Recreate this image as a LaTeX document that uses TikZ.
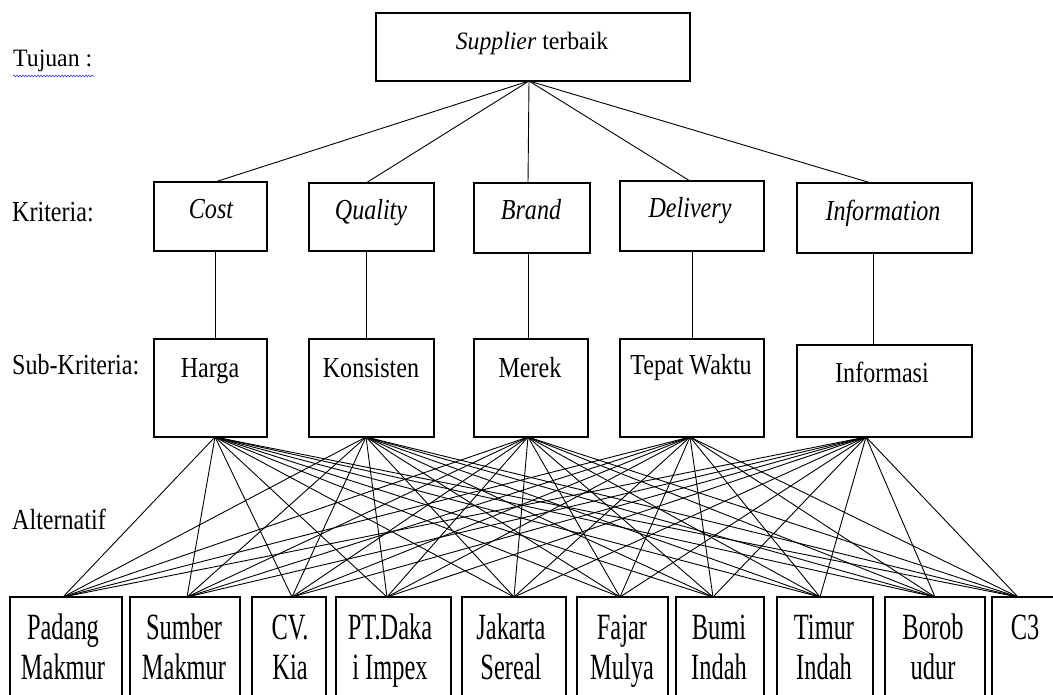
\documentclass[tikz,border=0pt]{standalone}
\usepackage{fontspec}
\setmainfont{Liberation Serif}
\newfontfamily\topfont[FakeStretch=0.95]{Liberation Serif}
\newfontfamily\midfont[FakeStretch=0.83]{Liberation Serif}
\newfontfamily\botfont[FakeStretch=0.66]{Liberation Serif}
\usetikzlibrary{decorations.pathmorphing}
\newcommand\mybox[5]{\node[box, anchor=north west, minimum width={#4-#2}, minimum height={#5-#3}] (#1) at (#2,#3) {};}
\begin{document}
\begin{tikzpicture}[x=1pt,y=-1pt,
  box/.style={draw=black, line width=1.1pt, inner sep=0pt, outer sep=0pt},
  ln/.style={line width=0.9pt, black},
  toptxt/.style={font=\topfont\fontsize{25}{28}\selectfont, anchor=base, inner sep=0pt},
  midtxt/.style={font=\midfont\fontsize{29}{32}\selectfont, anchor=base, inner sep=0pt},
  bottxt/.style={font=\botfont\fontsize{37}{40}\selectfont, anchor=base, inner sep=0pt, align=center},
  lefttxt/.style={anchor=base west, inner sep=0pt}]
\useasboundingbox (0,0) rectangle (1053,695);
\fill[white] (0,0) rectangle (1053,695);

% level labels
\node[toptxt, lefttxt] (l-tujuan) at (13,67) {Tujuan :};
\draw[blue!75!white, line width=0.6pt, decorate, decoration={snake, amplitude=0.9pt, segment length=3pt}] (13,76) -- (94,76);
\node[midtxt, lefttxt] (l-kriteria) at (12,222) {Kriteria:};
\node[midtxt, lefttxt] (l-sub) at (12,374) {Sub-Kriteria:};
\node[midtxt, lefttxt] (l-alt) at (12,529) {Alternatif};

% goal
\mybox{goal}{376}{13}{690}{81}
\node[toptxt] (t-goal) at (532,50) {\textit{Supplier} terbaik};

% criteria
\mybox{cost}{154}{182}{267}{251}
\mybox{quality}{309}{183}{434}{251}
\mybox{brand}{474}{183}{590}{253}
\mybox{delivery}{620}{181}{764}{251}
\mybox{information}{797}{183}{972}{253}
\node[midtxt] (t-cost) at (211,219) {\itshape Cost};
\node[midtxt] (t-quality) at (371,220) {\itshape Quality};
\node[midtxt] (t-brand) at (531,220) {\itshape Brand};
\node[midtxt] (t-delivery) at (690,218) {\itshape Delivery};
\node[midtxt] (t-information) at (883,221) {\itshape Information};

% sub-criteria
\mybox{harga}{154}{339}{267}{437}
\mybox{konsisten}{309}{339}{434}{437}
\mybox{merek}{474}{339}{588}{437}
\mybox{tepat}{620}{339}{764}{437}
\mybox{informasi}{797}{345}{972}{437}
\node[midtxt] (t-harga) at (210,377) {Harga};
\node[midtxt] (t-konsisten) at (371,377) {Konsisten};
\node[midtxt] (t-merek) at (530,377) {Merek};
\node[midtxt] (t-tepat) at (691,374) {Tepat Waktu};
\node[midtxt] (t-informasi) at (882,382) {Informasi};

% alternatives
\mybox{a1}{10}{597}{122}{705}
\mybox{a2}{130}{597}{240}{705}
\mybox{a3}{252}{597}{326}{705}
\mybox{a4}{336}{597}{451}{705}
\mybox{a5}{462}{597}{566}{705}
\mybox{a6}{577}{597}{668}{705}
\mybox{a7}{676}{597}{764}{705}
\mybox{a8}{777}{597}{873}{705}
\mybox{a9}{885}{597}{985}{705}
\mybox{a10}{992}{597}{1060}{705}
\node[bottxt] (t-a1) at (63,679) {Padang\\Makmur};
\node[bottxt] (t-a2) at (184,679) {Sumber\\Makmur};
\node[bottxt] (t-a3) at (290,679) {CV.\\Kia};
\node[bottxt] (t-a4) at (390,679) {PT.Daka\\i Impex};
\node[bottxt] (t-a5) at (511,679) {Jakarta\\Sereal};
\node[bottxt] (t-a6) at (622,679) {Fajar\\Mulya};
\node[bottxt] (t-a7) at (719,679) {Bumi\\Indah};
\node[bottxt] (t-a8) at (824,679) {Timur\\Indah};
\node[bottxt] (t-a9) at (933,679) {Borob\\udur};
\node[bottxt] (t-a10) at (1025,639) {C3};

% contact points
\coordinate (g-b) at (529,81);
\coordinate (c1-t) at (215,182);
\coordinate (c2-t) at (366,183);
\coordinate (c3-t) at (528,183);
\coordinate (c4-t) at (690,181);
\coordinate (c5-t) at (871,183);
\coordinate (c1-b) at (215,251);
\coordinate (c2-b) at (366,251);
\coordinate (c3-b) at (528,253);
\coordinate (c4-b) at (692,251);
\coordinate (c5-b) at (873,253);
\coordinate (s1-t) at (215,339);
\coordinate (s2-t) at (366,339);
\coordinate (s3-t) at (528,339);
\coordinate (s4-t) at (692,339);
\coordinate (s5-t) at (873,345);
\coordinate (s1-b) at (215,437);
\coordinate (s2-b) at (366,437);
\coordinate (s3-b) at (528,437);
\coordinate (s4-b) at (690,437);
\coordinate (s5-b) at (866,437);
\coordinate (a1-t) at (63,597);
\coordinate (a2-t) at (187,597);
\coordinate (a3-t) at (292,597);
\coordinate (a4-t) at (387,597);
\coordinate (a5-t) at (514,597);
\coordinate (a6-t) at (620,597);
\coordinate (a7-t) at (713,597);
\coordinate (a8-t) at (820,597);
\coordinate (a9-t) at (935,597);
\coordinate (a10-t) at (1018,597);

% connectors
\foreach \i in {1,...,5} {
  \draw[ln] (g-b) -- (c\i-t);
  \draw[ln] (c\i-b) -- (s\i-t);
  \foreach \j in {1,...,10} {
    \draw[ln] (s\i-b) -- (a\j-t);
  }
}
\end{tikzpicture}
\end{document}
